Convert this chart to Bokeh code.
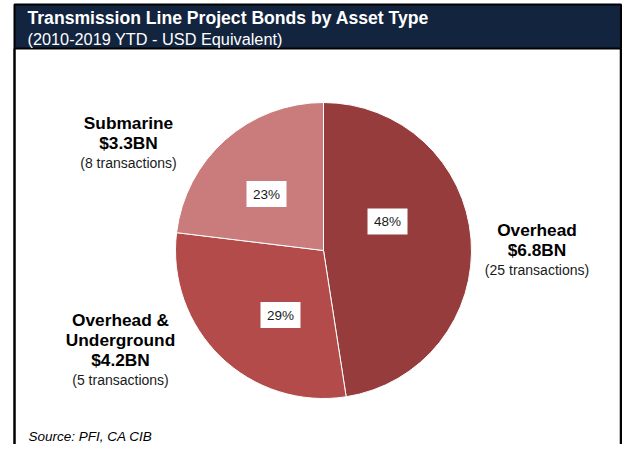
import math
from bokeh.plotting import figure
from bokeh.models import Range1d, ColumnDataSource
from bokeh.core.properties import value
from bokeh.embed import file_html
from bokeh.resources import INLINE

# ---------------- data ----------------
title = "Transmission Line Project Bonds by Asset Type"
subtitle = "(2010-2019 YTD - USD Equivalent)"
source_note = "Source: PFI, CA CIB"
categories = ["Overhead", "Overhead & Underground", "Submarine"]
name_lines = [["Overhead"], ["Overhead &", "Underground"], ["Submarine"]]
values_bn = [6.8, 4.2, 3.3]
transactions = [25, 5, 8]
colors = ["#963c3c", "#b24b49", "#c97c7b"]

# ---------------- layout (reference pixel positions) ----------------
W, H = 622, 444
FONT = value("Liberation Sans")


def X(rx):
    return rx


def Y(ry):
    return H - ry


pie_center = (323, 250)
pie_radius = 148
pct_pos = [(387, 221), (280, 314.5), (266, 193.5)]
cat_anchor = [(536.5, 229), (120, 319), (128, 122)]
line_gap = 20

p = figure(width=W, height=H, x_range=Range1d(0, W), y_range=Range1d(0, H),
           output_backend="svg", toolbar_location=None, min_border=0,
           x_axis_type=None, y_axis_type=None)
p.grid.visible = False
p.outline_line_color = None
p.background_fill_color = "white"
p.border_fill_color = "white"

# header band and frame
navy = "#13243f"
right_edge = W - 1.5
p.quad(left=[X(14)], right=[right_edge], top=[Y(4)], bottom=[Y(48)],
       fill_color=navy, line_color="black", line_width=2)
p.segment(x0=[X(14), right_edge], y0=[Y(48), Y(48)], x1=[X(14), right_edge], y1=[0, 0],
          line_color="black", line_width=2.5)

p.text(x=[X(27)], y=[Y(17)], text=[title], text_font=FONT, text_font_size="17.6px",
       text_font_style="bold", text_color="white", text_align="left", text_baseline="middle")
p.text(x=[X(27)], y=[Y(38)], text=[subtitle], text_font=FONT, text_font_size="16.3px",
       text_color="white", text_align="left", text_baseline="middle")

# pie
total = sum(values_bn)
starts, ends, cum = [], [], 0.0
for v in values_bn:
    starts.append(math.pi / 2 - 2 * math.pi * cum / total)
    cum += v
    ends.append(math.pi / 2 - 2 * math.pi * cum / total)
src = ColumnDataSource(dict(start=starts, end=ends, color=colors, cat=categories))
p.wedge(x=X(pie_center[0]), y=Y(pie_center[1]), radius=pie_radius,
        start_angle="start", end_angle="end", direction="clock",
        fill_color="color", line_color="white", line_width=1, source=src)

# percent labels
pct_text = ["%d%%" % round(v / total * 100) for v in values_bn]
px = [X(a) for a, b in pct_pos]
py = [Y(b) for a, b in pct_pos]
p.rect(x=px, y=py, width=40, height=26, fill_color="white", line_color=None)
p.text(x=px, y=py, text=pct_text, text_font=FONT, text_font_size="13.5px",
       text_color="#1a1a1a", text_align="center", text_baseline="middle")

# category labels
bx, by, bt, rx_, ry_, rt = [], [], [], [], [], []
for names, v, n, (ax, ay) in zip(name_lines, values_bn, transactions, cat_anchor):
    yy = ay
    for nm in names:
        bx.append(X(ax)); by.append(Y(yy)); bt.append(nm)
        yy += line_gap
    bx.append(X(ax)); by.append(Y(yy)); bt.append("$%.1fBN" % v)
    yy += line_gap
    rx_.append(X(ax)); ry_.append(Y(yy)); rt.append("(%d transactions)" % n)
p.text(x=bx, y=by, text=bt, text_font=FONT, text_font_size="17.3px", text_font_style="bold",
       text_color="black", text_align="center", text_baseline="middle")
p.text(x=rx_, y=ry_, text=rt, text_font=FONT, text_font_size="14px",
       text_color="#1a1a1a", text_align="center", text_baseline="middle")

# source
p.text(x=[X(28)], y=[Y(436)], text=[source_note], text_font=FONT, text_font_size="13.5px",
       text_font_style="italic", text_color="black", text_align="left", text_baseline="middle")

open("out.html", "w").write(file_html(p, INLINE))
